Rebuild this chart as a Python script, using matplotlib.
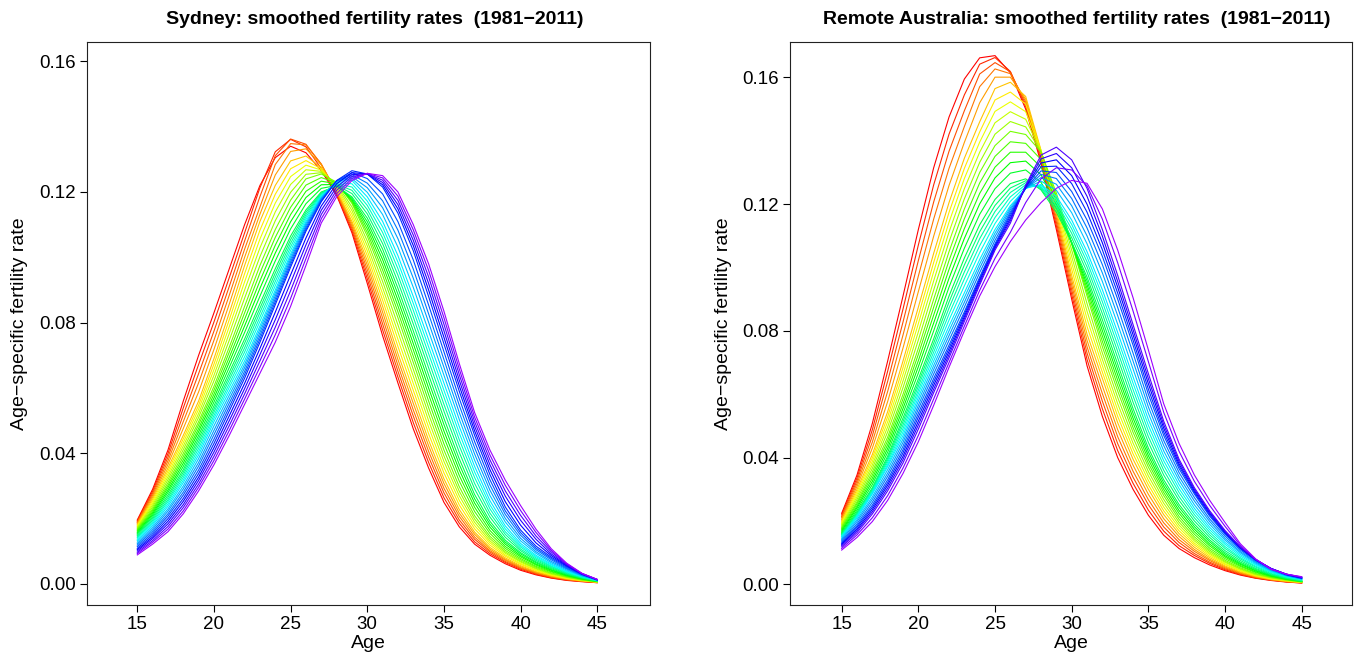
import numpy as np
import matplotlib
matplotlib.use("Agg")
import matplotlib.pyplot as plt
from matplotlib.colors import hsv_to_rgb

# ---------------- data (rates x 1e4); each list = one age, values for years 1981..2011
ages = list(range(15, 46))
years = list(range(1981, 2012))

SYD_15 = [196,193,190,188,185,182,179,176,174,171,168,165,162,158,155,152,148,144,141,137,133,128,123,119,114,109,105,101,97,93,89]
SYD_16 = [290,284,278,272,266,260,254,248,242,236,230,225,220,215,210,205,200,195,190,185,180,174,168,162,156,150,144,139,133,128,122]
SYD_17 = [410,399,388,377,366,355,346,337,328,319,310,302,295,287,280,272,265,258,252,245,238,230,223,215,208,200,192,184,176,168,160]
SYD_18 = [560,539,518,497,476,455,444,433,422,411,400,390,380,370,360,350,342,334,326,318,310,300,291,281,272,262,253,243,234,224,215]
SYD_19 = [700,672,644,616,588,560,547,535,522,510,497,487,476,466,455,445,435,425,415,405,395,384,372,361,349,338,327,317,306,296,285]
SYD_20 = [830,802,774,746,718,690,673,656,639,622,605,593,581,569,557,545,535,526,516,507,497,484,470,457,443,430,417,404,391,378,365]
SYD_21 = [965,938,911,884,857,830,809,788,767,746,725,710,694,679,663,648,636,625,613,602,590,578,566,554,542,530,515,500,485,470,455]
SYD_22 = [1100,1075,1050,1025,1000,975,950,925,900,875,850,830,810,790,770,750,737,723,710,696,683,672,662,651,641,630,614,598,582,566,550]
SYD_23 = [1220,1213,1186,1154,1132,1110,1083,1056,1029,1002,975,952,928,905,881,858,844,831,817,804,790,780,770,760,750,740,721,702,683,664,645]
SYD_24 = [1305,1323,1311,1284,1252,1220,1193,1166,1139,1112,1085,1061,1037,1013,989,965,952,939,926,913,900,891,882,873,864,855,832,809,786,763,740]
SYD_25 = [1340,1361,1362,1348,1324,1295,1271,1247,1223,1199,1175,1153,1131,1109,1087,1065,1054,1043,1032,1021,1010,1002,994,986,978,970,946,922,898,874,850]
SYD_26 = [1320,1338,1346,1344,1332,1310,1296,1282,1268,1254,1240,1221,1202,1183,1164,1145,1138,1131,1124,1117,1110,1104,1098,1092,1086,1080,1059,1038,1017,996,975]
SYD_27 = [1265,1272,1284,1286,1283,1275,1271,1267,1263,1259,1255,1244,1233,1222,1211,1200,1197,1194,1191,1188,1185,1182,1179,1176,1173,1170,1157,1144,1131,1118,1105]
SYD_28 = [1190,1193,1196,1199,1202,1205,1210,1215,1220,1225,1230,1228,1225,1223,1220,1218,1221,1224,1226,1229,1232,1233,1233,1234,1234,1235,1225,1215,1205,1195,1185]
SYD_29 = [1075,1082,1089,1096,1103,1110,1121,1132,1143,1154,1165,1169,1173,1177,1181,1185,1195,1205,1215,1225,1235,1241,1247,1253,1259,1265,1259,1253,1247,1241,1235]
SYD_30 = [920,934,948,962,976,990,1005,1020,1035,1050,1065,1076,1087,1098,1109,1120,1133,1146,1159,1172,1185,1199,1213,1227,1241,1255,1255,1256,1256,1257,1257]
SYD_31 = [760,778,796,814,832,850,869,888,907,926,945,961,977,993,1009,1025,1042,1059,1076,1093,1110,1131,1152,1173,1194,1215,1222,1229,1236,1243,1250]
SYD_32 = [615,633,651,669,687,705,727,749,771,793,815,833,851,869,887,905,925,945,965,985,1005,1031,1057,1083,1109,1135,1148,1161,1174,1187,1200]
SYD_33 = [475,494,514,533,553,572,593,614,636,657,678,697,717,736,756,775,796,817,838,859,880,908,936,964,992,1020,1036,1052,1068,1084,1100]
SYD_34 = [355,372,389,406,423,440,460,480,500,520,540,560,580,600,620,640,662,683,705,726,748,774,801,827,854,880,900,920,940,960,980]
SYD_35 = [250,264,279,293,308,322,340,357,375,392,410,429,449,468,488,507,529,550,572,593,615,639,663,687,711,735,755,775,795,815,835]
SYD_36 = [175,186,196,207,217,228,242,256,270,284,298,315,332,349,366,383,403,423,442,462,482,504,525,547,568,590,607,624,641,658,675]
SYD_37 = [122,129,137,144,152,159,169,179,189,199,209,222,235,248,261,274,291,308,326,343,360,379,398,417,436,455,469,483,497,511,525]
SYD_38 = [88,93,98,102,107,112,119,126,132,139,146,155,164,174,183,192,205,217,230,242,255,271,287,303,319,335,350,365,380,395,410]
SYD_39 = [62,66,69,73,76,80,85,89,94,98,103,109,115,122,128,134,143,152,160,169,178,190,201,213,224,236,252,269,285,302,318]
SYD_40 = [42,45,48,50,53,56,60,63,67,70,74,78,83,87,92,96,102,107,113,118,124,132,140,149,157,165,180,195,210,225,240]
SYD_41 = [28,30,32,34,36,38,41,43,46,48,51,54,58,61,65,68,72,76,80,84,88,94,99,105,110,116,126,137,147,158,168]
SYD_42 = [18,19,21,22,24,25,27,29,30,32,34,37,39,42,44,47,50,53,55,58,61,65,69,74,78,82,87,92,98,103,108]
SYD_43 = [11,12,13,14,15,16,17,18,20,21,22,24,25,27,28,30,32,34,36,38,40,43,46,48,51,54,56,58,60,62,64]
SYD_44 = [7,8,8,9,9,10,11,11,12,12,13,14,15,16,17,18,19,20,22,23,24,25,26,28,29,30,31,31,32,32,33]
SYD_45 = [4,4,5,5,6,6,6,6,7,7,7,7,8,8,9,9,9,10,10,11,11,11,12,12,13,13,13,13,14,14,14]

REM_15 = [224,219,214,210,205,200,196,192,188,184,180,176,172,168,164,160,158,156,153,151,149,145,141,137,133,129,126,122,118,113,108]
REM_16 = [345,336,327,318,309,300,292,284,276,268,260,254,247,241,234,228,224,221,217,214,210,204,198,191,185,180,174,169,163,156,148]
REM_17 = [508,488,469,449,430,410,399,388,377,366,355,345,335,325,315,305,301,297,293,289,285,276,268,259,250,243,236,229,222,210,198]
REM_18 = [705,673,641,609,577,545,529,513,497,481,465,453,441,429,417,405,398,392,385,378,372,362,351,341,330,321,313,304,295,280,265]
REM_19 = [910,869,828,787,746,705,684,663,642,621,600,585,570,555,540,525,514,503,492,481,470,459,448,436,425,415,404,394,383,367,350]
REM_20 = [1120,1071,1022,973,924,875,849,823,797,771,745,726,706,687,667,648,636,625,613,602,590,578,565,553,540,528,515,503,490,470,450]
REM_21 = [1315,1261,1207,1153,1099,1045,1016,987,958,929,900,875,850,825,800,775,761,747,733,719,705,691,678,664,650,639,628,616,605,585,565]
REM_22 = [1475,1421,1367,1313,1259,1205,1174,1143,1112,1081,1050,1022,994,966,938,910,891,872,853,834,815,800,785,770,755,745,735,725,715,700,685]
REM_23 = [1595,1545,1495,1445,1395,1345,1313,1281,1249,1217,1185,1154,1123,1092,1061,1030,1008,986,964,942,920,905,890,875,860,853,845,838,830,815,800]
REM_24 = [1662,1642,1611,1571,1520,1460,1428,1396,1364,1332,1300,1267,1234,1201,1168,1135,1113,1091,1069,1047,1025,1011,998,984,970,964,958,951,945,928,910]
REM_25 = [1669,1663,1647,1627,1601,1565,1529,1493,1457,1421,1385,1351,1317,1283,1249,1215,1196,1177,1158,1139,1120,1109,1098,1086,1075,1070,1065,1060,1055,1029,1003]
REM_26 = [1615,1619,1618,1612,1601,1585,1554,1523,1492,1461,1430,1397,1364,1331,1298,1265,1251,1237,1223,1209,1195,1189,1183,1176,1170,1163,1155,1148,1140,1111,1082]
REM_27 = [1500,1508,1516,1524,1532,1540,1516,1492,1468,1444,1420,1392,1364,1336,1308,1280,1274,1268,1262,1256,1250,1250,1250,1250,1250,1253,1255,1258,1260,1205,1150]
REM_28 = [1330,1338,1346,1354,1362,1370,1369,1368,1367,1366,1365,1341,1317,1293,1269,1245,1248,1252,1255,1259,1262,1273,1284,1294,1305,1318,1330,1343,1355,1280,1205]
REM_29 = [1120,1132,1144,1156,1168,1180,1191,1202,1213,1224,1235,1223,1211,1199,1187,1175,1185,1195,1205,1215,1225,1244,1263,1281,1300,1320,1340,1360,1380,1315,1250]
REM_30 = [900,915,930,945,960,975,995,1015,1035,1055,1075,1076,1077,1078,1079,1080,1094,1108,1122,1136,1150,1173,1195,1218,1240,1265,1290,1315,1340,1308,1275]
REM_31 = [690,710,730,750,770,790,814,838,862,886,910,922,934,946,958,970,986,1002,1018,1034,1050,1075,1100,1125,1150,1175,1200,1225,1250,1258,1266]
REM_32 = [530,554,578,602,626,650,670,690,710,730,750,767,784,801,818,835,854,873,892,911,930,956,983,1009,1035,1056,1078,1099,1120,1153,1185]
REM_33 = [400,422,444,466,488,510,530,550,570,590,610,627,644,661,678,695,715,735,755,775,795,821,848,874,900,919,938,956,975,1015,1055]
REM_34 = [300,319,338,357,376,395,412,429,446,463,480,495,510,525,540,555,575,595,615,635,655,680,705,730,755,771,788,804,820,863,905]
REM_35 = [218,234,251,267,284,300,314,328,342,356,370,382,394,406,418,430,448,466,484,502,520,540,560,580,600,616,633,649,665,703,740]
REM_36 = [155,168,181,194,207,220,232,244,256,268,280,290,300,310,320,330,345,360,375,390,405,421,438,454,470,481,493,504,515,543,570]
REM_37 = [113,122,132,141,151,160,169,178,187,196,205,214,224,233,243,252,265,277,290,302,315,328,340,353,365,373,380,388,395,420,445]
REM_38 = [84,91,97,104,110,117,124,130,137,143,150,158,166,174,182,190,200,210,220,230,240,251,263,274,285,290,295,300,305,325,345]
REM_39 = [61,66,70,75,79,84,89,94,98,103,108,114,121,127,134,140,148,156,164,172,180,189,198,206,215,219,224,228,232,249,265]
REM_40 = [43,46,49,52,55,58,62,65,69,72,76,81,86,90,95,100,106,113,119,126,132,139,145,152,158,161,164,167,170,183,195]
REM_41 = [29,31,33,35,37,39,42,44,47,49,52,56,59,63,66,70,75,80,84,89,94,99,103,108,112,114,115,117,118,123,128]
REM_42 = [19,20,21,23,24,25,27,29,30,32,34,37,39,42,44,47,50,54,57,61,64,67,70,73,76,77,77,78,78,79,80]
REM_43 = [12,13,14,14,15,16,17,18,20,21,22,24,25,27,28,30,32,34,37,39,41,43,45,47,49,49,50,50,50,49,47]
REM_44 = [7,8,8,9,9,10,11,12,12,13,14,15,16,16,17,18,20,21,23,24,26,27,28,29,30,31,31,32,32,32,32]
REM_45 = [4,4,5,5,6,6,6,7,7,8,8,8,9,9,10,10,11,12,14,15,16,17,17,18,19,20,20,21,22,23,24]

x_ticks = [15, 20, 25, 30, 35, 40, 45]
y_ticks = [0.00, 0.04, 0.08, 0.12, 0.16]
y_tick_labels = ["0.00", "0.04", "0.08", "0.12", "0.16"]

syd = np.array([SYD_15, SYD_16, SYD_17, SYD_18, SYD_19, SYD_20, SYD_21, SYD_22, SYD_23, SYD_24,
                SYD_25, SYD_26, SYD_27, SYD_28, SYD_29, SYD_30, SYD_31, SYD_32, SYD_33, SYD_34,
                SYD_35, SYD_36, SYD_37, SYD_38, SYD_39, SYD_40, SYD_41, SYD_42, SYD_43, SYD_44, SYD_45]) * 1e-4
rem = np.array([REM_15, REM_16, REM_17, REM_18, REM_19, REM_20, REM_21, REM_22, REM_23, REM_24,
                REM_25, REM_26, REM_27, REM_28, REM_29, REM_30, REM_31, REM_32, REM_33, REM_34,
                REM_35, REM_36, REM_37, REM_38, REM_39, REM_40, REM_41, REM_42, REM_43, REM_44, REM_45]) * 1e-4

# ---------------- figure
plt.rcParams['font.family'] = ['Liberation Sans', 'DejaVu Sans']
W, H = 1357, 657
fig = plt.figure(figsize=(W / 100, H / 100), dpi=100)

n = len(years)
colors = [hsv_to_rgb((i / 39.0, 1.0, 1.0)) for i in range(n)]

panels = [
    (syd, (87, 42, 650, 605), "Sydney: smoothed fertility rates  (1981\u22122011)",
     (11.72, 48.44), (-0.00643, 0.1659)),
    (rem, (790, 42, 1352, 605), "Remote Australia: smoothed fertility rates  (1981\u22122011)",
     (11.63, 48.28), (-0.00654, 0.1712)),
]

for data, (l, t, r, b), title, xl, yl in panels:
    ax = fig.add_axes([l / W, 1 - b / H, (r - l) / W, (b - t) / H])
    for j in range(n):
        ax.plot(ages, data[:, j], color=colors[j], lw=0.8)
    ax.set_xlim(*xl)
    ax.set_ylim(*yl)
    ax.set_xticks(x_ticks)
    ax.set_yticks(y_ticks)
    ax.set_yticklabels(y_tick_labels)
    ax.tick_params(direction='out', length=5, width=0.8, labelsize=13.5, pad=3, colors='black')
    for s in ax.spines.values():
        s.set_linewidth(0.8)
        s.set_color('#222222')
    cx = (l + r) / 2
    fig.text((cx + 6) / W, 1 - 19.5 / H, title, ha='center', va='center', fontsize=14, fontweight='bold')
    fig.text(cx / W, 1 - 643 / H, "Age", ha='center', va='center', fontsize=14)
    fig.text((l - 67) / W, 1 - ((t + b) / 2) / H, "Age\u2212specific fertility rate",
             ha='center', va='center', rotation=90, fontsize=14)

fig.savefig("out.png", dpi=100)
